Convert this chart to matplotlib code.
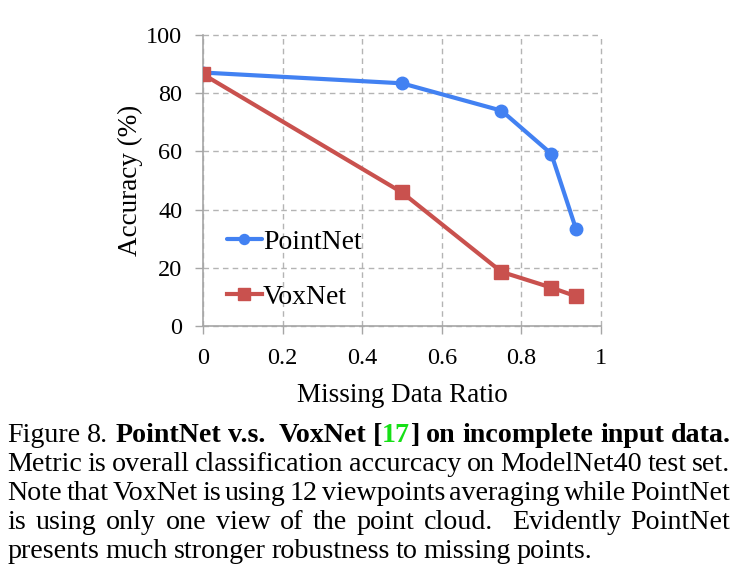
import matplotlib
matplotlib.use("Agg")
import matplotlib.pyplot as plt

# ---------------- data ----------------
missing_ratio = [0.0, 0.5, 0.75, 0.875, 0.9375]
pointnet_acc = [87.1, 83.4, 74.0, 59.2, 33.2]
voxnet_acc = [86.5, 45.9, 18.6, 13.2, 10.2]
series_names = ["PointNet", "VoxNet"]
x_ticks = [0, 0.2, 0.4, 0.6, 0.8, 1]
x_tick_labels = ["0", "0.2", "0.4", "0.6", "0.8", "1"]
y_ticks = [0, 20, 40, 60, 80, 100]
y_tick_labels = ["0", "20", "40", "60", "80", "100"]
x_label = "Missing Data Ratio"
y_label = "Accuracy (%)"

W, H = 740, 587
plt.rcParams['font.family'] = ['Liberation Serif', 'DejaVu Serif']

fig = plt.figure(figsize=(W / 100, H / 100), dpi=100)
ax = fig.add_axes([203 / W, 1 - 326 / H, (601 - 203) / W, (326 - 35) / H])

BLUE = '#4281f2'
RED = '#c9514e'
GRID = '#b4b4b4'
SPINE = '#a6a6a6'

ax.plot(missing_ratio, pointnet_acc, color=BLUE, lw=3.0, marker='o', ms=9.0,
        label=series_names[0], zorder=3, solid_capstyle='round')
ax.plot(missing_ratio, voxnet_acc, color=RED, lw=3.0, marker='s', ms=10.0,
        label=series_names[1], zorder=4)

ax.set_xlim(0, 1)
ax.set_ylim(0, 100)
ax.set_xticks(x_ticks)
ax.set_xticklabels(x_tick_labels)
ax.set_yticks(y_ticks)
ax.set_yticklabels(y_tick_labels)
ax.tick_params(axis='both', direction='out', length=5.5, width=1.0, color=SPINE,
               labelsize=17.5, labelcolor='black')
ax.tick_params(axis='y', pad=9.5)
ax.tick_params(axis='x', pad=10)

ax.grid(True, color=GRID, linestyle=(0, (4, 3)), linewidth=1.0, zorder=1)
for gl in ax.get_xgridlines() + ax.get_ygridlines():
    gl.set_clip_on(False)
ax.set_axisbelow(True)
for s in ['top', 'right']:
    ax.spines[s].set_visible(False)
for s in ['left', 'bottom']:
    ax.spines[s].set_color(SPINE)
    ax.spines[s].set_linewidth(1.2)
    ax.spines[s].set_zorder(2)

ax.set_xlabel(x_label, fontsize=19.5)
ax.xaxis.label.set_va('center')
ax.xaxis.set_label_coords(0.5, (326 - 395) / (326 - 35))
ax.set_ylabel(y_label, fontsize=19.5)
ax.yaxis.label.set_va('center')
ax.yaxis.set_label_coords((130 - 203) / (601 - 203), 0.5)

leg = ax.legend(loc='center left',
                bbox_to_anchor=((227 - 203) / (601 - 203), (326 - 269.7) / (326 - 35)),
                frameon=False, fontsize=20, handlelength=1.25, handletextpad=0.05,
                labelspacing=1.05, borderpad=0, borderaxespad=0, markerscale=0.8)

# ---------------- caption (justified) ----------------
styles = {'n': dict(weight='normal', color='black'),
          'b': dict(weight='bold', color='black'),
          'g': dict(weight='bold', color='#16e016')}


def parse(s, st):
    words, gaps, g = [], [], 0
    for p in s.split(' '):
        if p == '':
            g += 1
            continue
        if words:
            gaps.append(g)
        words.append([(p, st)])
        g = 1
    return words, gaps


words1 = [[("Figure", 'n')], [("8.", 'n')], [("PointNet", 'b')], [("v.s.", 'b')],
          [("VoxNet", 'b')], [("[", 'b'), ("17", 'g'), ("]", 'b')], [("on", 'b')],
          [("incomplete", 'b')], [("input", 'b')], [("data.", 'b')]]
gaps1 = [1, 1, 1, 2, 1, 1, 1, 1, 1]
caption_lines = [
    (words1, gaps1, True),
    parse("Metric is overall classification accurcacy on ModelNet40 test set.", 'n') + (True,),
    parse("Note that VoxNet is using 12 viewpoints averaging while PointNet", 'n') + (True,),
    parse("is using only one view of the point cloud.  Evidently PointNet", 'n') + (True,),
    parse("presents much stronger robustness to missing points.", 'n') + (False,),
]
baselines = [442.3, 471.0, 500.0, 528.7, 557.5]
LEFT, RIGHT = 7.5, 730.5

renderer = fig.canvas.get_renderer()


def width_of(s, size, st='n'):
    t = fig.text(0, 0, s, fontsize=size, **styles[st])
    w = t.get_window_extent(renderer).width
    t.remove()
    return w


ref = width_of("presents much stronger robustness to missing points.", 17)
cap_size = 17 * 590 / ref
space_w = width_of("a a", cap_size) - width_of("aa", cap_size)
space_w *= 0.85


def place_line(words, gaps, yb, justify):
    placed, widths = [], []
    for word in words:
        pieces, ww = [], 0
        for s, st in word:
            t = fig.text(0, 1 - yb / H, s, fontsize=cap_size, va='baseline', ha='left',
                         **styles[st])
            w = t.get_window_extent(renderer).width
            pieces.append((t, w))
            ww += w
        placed.append(pieces)
        widths.append(ww)
    if justify:
        unit = (RIGHT - LEFT - sum(widths)) / sum(gaps)
    else:
        unit = space_w
    x = LEFT
    for i, pieces in enumerate(placed):
        for t, w in pieces:
            t.set_x(x / W)
            x += w
        if i < len(gaps):
            x += unit * gaps[i]


for (words, gaps, just), yb in zip(caption_lines, baselines):
    place_line(words, gaps, yb, just)

fig.savefig("out.png", dpi=100)
